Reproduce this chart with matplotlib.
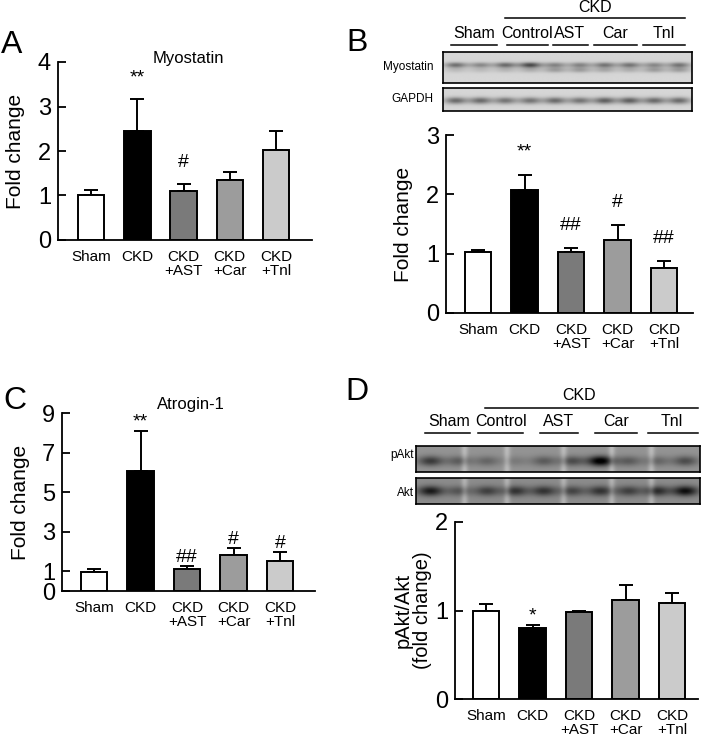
import numpy as np
import matplotlib
matplotlib.use("Agg")
import matplotlib.pyplot as plt

plt.rcParams["font.family"] = ["Liberation Sans", "DejaVu Sans"]

# =====================================================
# DATA
# =====================================================

groups = ["Sham", "CKD", "CKD\n+AST", "CKD\n+Car", "CKD\n+Tnl"]
bar_colors = ["#ffffff", "#000000", "#7a7a7a", "#9c9c9c", "#cbcbcb"]

# A: Myostatin mRNA
myo_mean = [1.00, 2.45, 1.10, 1.35, 2.03]
myo_err = [0.12, 0.72, 0.16, 0.18, 0.43]
myo_sig = ["", "**", "#", "", ""]

# B: Myostatin protein
myo_wb_mean = [1.02, 2.07, 1.02, 1.23, 0.75]
myo_wb_err = [0.05, 0.26, 0.08, 0.26, 0.12]
myo_wb_sig = ["", "**", "##", "#", "##"]

# C: Atrogin-1 mRNA
atro_mean = [0.95, 6.05, 1.12, 1.84, 1.54]
atro_err = [0.18, 2.05, 0.14, 0.33, 0.41]
atro_sig = ["", "**", "##", "#", "#"]

# D: pAkt/Akt
akt_mean = [0.99, 0.80, 0.98, 1.12, 1.09]
akt_err = [0.08, 0.04, 0.015, 0.17, 0.11]
akt_sig = ["", "*", "", "", ""]

blot_groups = ["Sham", "Control", "AST", "Car", "Tnl"]

# band darkness per lane (2 lanes per group)
myostatin_lanes = [0.40, 0.30, 0.42, 0.55, 0.32, 0.32, 0.38, 0.38, 0.30, 0.38]
myostatin_lower = [0.10, 0.10, 0.12, 0.15, 0.22, 0.22, 0.18, 0.15, 0.22, 0.22]
gapdh_lanes = [0.42, 0.42, 0.38, 0.38, 0.42, 0.38, 0.46, 0.46, 0.42, 0.42]
pakt_lanes = [0.35, 0.22, 0.18, 0.10, 0.22, 0.28, 0.62, 0.22, 0.18, 0.28]
akt_lanes = [0.45, 0.22, 0.30, 0.35, 0.35, 0.28, 0.35, 0.30, 0.38, 0.50]

# =====================================================
# LAYOUT (pixels)
# =====================================================

W, H = 709, 744
fig = plt.figure(figsize=(W / 100, H / 100), dpi=100)

ov = fig.add_axes([0, 0, 1, 1])
ov.set_xlim(0, W)
ov.set_ylim(H, 0)
ov.axis("off")
ov.patch.set_visible(False)


def px_axes(x0, y0, x1, y1):
    return fig.add_axes([x0 / W, 1 - y1 / H, (x1 - x0) / W, (y1 - y0) / H])


def bar_panel(ax, mean, err, sig, ylim, yticks, xlim, ylabel, label_x,
              sig_off, label_size=15):
    x = np.arange(len(mean))
    ax.bar(x, mean, width=0.57, color=bar_colors, edgecolor="black",
           linewidth=1.4, zorder=2)
    ax.errorbar(x, mean, yerr=[np.zeros(len(err)), err], fmt="none",
                ecolor="black", elinewidth=1.4, capsize=5, capthick=1.4,
                zorder=1)
    for i, s in enumerate(sig):
        if s:
            ax.annotate(s, (x[i], mean[i] + err[i]), xytext=(0, sig_off),
                        textcoords="offset points", ha="center",
                        va="bottom", fontsize=14)
    ax.set_xlim(*xlim)
    ax.set_ylim(*ylim)
    ax.set_yticks(yticks)
    ax.set_xticks(x)
    ax.set_xticklabels(groups, fontsize=11, linespacing=1.05)
    ax.tick_params(axis="x", length=0, pad=7)
    ax.tick_params(axis="y", direction="in", length=6, width=1.3,
                   labelsize=17, pad=5)
    for side in ["top", "right"]:
        ax.spines[side].set_visible(False)
    for side in ["left", "bottom"]:
        ax.spines[side].set_linewidth(1.3)
    ax.patch.set_visible(False)
    ax.set_ylabel(ylabel, fontsize=label_size, linespacing=1.0)
    ax.yaxis.set_label_coords(label_x, 0.5)


def blot_image(lanes, bg, center, sigma, lower=None, lower_center=0.6,
               stripes=None, h=40, w=300):
    yy = np.linspace(0, 1, h)[:, None]
    xx = np.linspace(0, 1, w)[None, :]
    img = np.full((h, w), bg)
    n = len(lanes)
    for i, d in enumerate(lanes):
        cx = (i + 0.5) / n
        gx = np.exp(-((xx - cx) / (0.45 / n)) ** 2)
        img = img - d * gx * np.exp(-((yy - center) / sigma) ** 2)
        if lower is not None:
            img = img - lower[i] * gx * np.exp(-((yy - lower_center) / sigma) ** 2)
    if stripes is not None:
        for sx in stripes:
            img = img + 0.15 * np.exp(-((xx - sx) / 0.012) ** 2)
    return np.clip(img, 0, 1)


def draw_blot(x0, y0, x1, y1, img):
    ax = px_axes(x0, y0, x1, y1)
    ax.imshow(img, cmap="gray", vmin=0, vmax=1, aspect="auto",
              interpolation="bilinear")
    ax.set_xticks([])
    ax.set_yticks([])
    for s in ax.spines.values():
        s.set_linewidth(1.2)
    return ax


# =====================================================
# PANEL A
# =====================================================

axA = px_axes(58, 62, 312, 240)
bar_panel(axA, myo_mean, myo_err, myo_sig, (0, 4), [0, 1, 2, 3, 4],
          (-0.72, 4.78), "Fold change", -0.13, 9)
ov.text(188, 59, "Myostatin", fontsize=12, ha="center", va="center")
ov.text(12, 45, "A", fontsize=23, ha="center", va="center")

# =====================================================
# PANEL B
# =====================================================

axB = px_axes(446, 135, 693, 313)
bar_panel(axB, myo_wb_mean, myo_wb_err, myo_wb_sig, (0, 3), [0, 1, 2, 3],
          (-0.69, 4.62), "Fold change", -0.134, 10)
ov.text(357, 43, "B", fontsize=23, ha="center", va="center")

draw_blot(443, 52, 692, 83,
          blot_image(myostatin_lanes, 0.84, 0.42, 0.09, lower=myostatin_lower,
                     lower_center=0.58))
draw_blot(443, 88, 692, 111, blot_image(gapdh_lanes, 0.84, 0.55, 0.15))
ov.text(433, 67, "Myostatin", fontsize=8.5, ha="right", va="center")
ov.text(433, 99, "GAPDH", fontsize=8.5, ha="right", va="center")

b_centers = [474, 527, 570, 615, 664]
b_lines = [(451, 497), (507, 548), (553, 588), (594, 637), (643, 685)]
for name, cx, (l0, l1) in zip(blot_groups, b_centers, b_lines):
    ov.text(cx, 33, name, fontsize=11.5, ha="center", va="center")
    ov.plot([l0, l1], [45, 45], color="black", lw=1.1)
ov.plot([505, 685], [18, 18], color="black", lw=1.1)
ov.text(595, 8, "CKD", fontsize=11.5, ha="center", va="center")

# =====================================================
# PANEL C
# =====================================================

axC = px_axes(62, 413, 315, 591)
bar_panel(axC, atro_mean, atro_err, atro_sig, (0, 9), [0, 1, 3, 5, 7, 9],
          (-0.69, 4.75), "Fold change", -0.126, 0)
ov.text(191, 405, "Atrogin-1", fontsize=12, ha="center", va="center")
ov.text(15, 401, "C", fontsize=23, ha="center", va="center")

# =====================================================
# PANEL D
# =====================================================

axD = px_axes(455, 522, 698, 699)
bar_panel(axD, akt_mean, akt_err, akt_sig, (0, 2), [0, 1, 2],
          (-0.67, 4.56), "pAkt/Akt\n(fold change)", -0.095, 0, label_size=14.5)
ov.text(357, 392, "D", fontsize=23, ha="center", va="center")

stripes_p = [0.17, 0.32, 0.52, 0.69, 0.83]
draw_blot(416, 446, 700, 472,
          blot_image(pakt_lanes, 0.58, 0.58, 0.2, stripes=stripes_p))
draw_blot(416, 478, 700, 504,
          blot_image(akt_lanes, 0.55, 0.5, 0.2, stripes=stripes_p))
ov.text(414, 455, "pAkt", fontsize=8.5, ha="right", va="center")
ov.text(414, 493, "Akt", fontsize=8.5, ha="right", va="center")

d_centers = [449, 501, 559, 616, 672]
d_lines = [(425, 470), (478, 523), (540, 578), (595, 637), (648, 698)]
for name, cx, (l0, l1) in zip(blot_groups, d_centers, d_lines):
    ov.text(cx, 422, name, fontsize=11.5, ha="center", va="center")
    ov.plot([l0, l1], [433, 433], color="black", lw=1.1)
ov.plot([485, 698], [408, 408], color="black", lw=1.1)
ov.text(579, 396, "CKD", fontsize=11.5, ha="center", va="center")

fig.savefig("out.png", dpi=100)
